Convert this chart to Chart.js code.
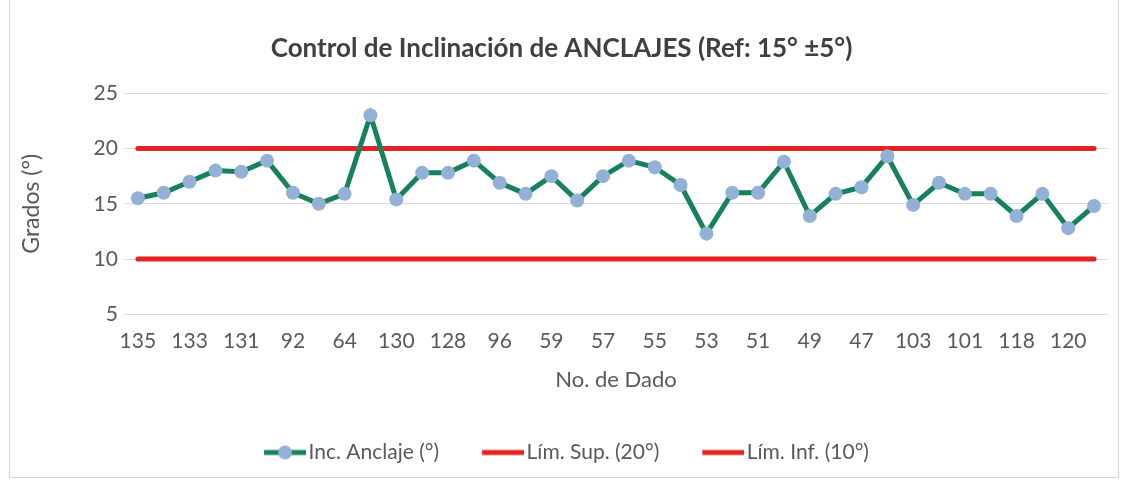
<!DOCTYPE html>
<html>
<head>
<meta charset="utf-8">
<script src="https://cdn.jsdelivr.net/npm/chart.js@4.4.0/dist/chart.umd.min.js"></script>
<style>
  body { margin: 0; background: #fff; }
  #wrap { position: relative; width: 1131px; height: 483px; }
  #frame { position: absolute; left: 9px; top: -2px; width: 1108px; height: 478px; border: 1px solid #d6d6d6; }
</style>
</head>
<body>
<div id="wrap">
  <div id="frame"></div>
  <canvas id="canvas"></canvas>
</div>
<script>
"use strict";

// No. de Dado (only every other label is printed on the axis)
var dados = ['135', '134', '133', '132', '131', '93', '92', '91', '64', '63',
             '130', '129', '128', '97', '96', '60', '59', '58', '57', '56',
             '55', '54', '53', '52', '51', '50', '49', '48', '47', '104',
             '103', '102', '101', '117', '118', '119', '120', '121'];

var inclinacion = [15.5, 16.0, 17.0, 18.0, 17.9, 18.9, 16.0, 15.0, 15.9, 23.0,
                   15.4, 17.8, 17.8, 18.9, 16.9, 15.9, 17.5, 15.3, 17.5, 18.9,
                   18.3, 16.7, 12.3, 16.0, 16.0, 18.8, 13.9, 15.9, 16.5, 19.3,
                   14.9, 16.9, 15.9, 15.9, 13.9, 15.9, 12.8, 14.8];

var limSup = [20, 20, 20, 20, 20, 20, 20, 20, 20, 20, 20, 20, 20, 20, 20, 20, 20, 20, 20,
              20, 20, 20, 20, 20, 20, 20, 20, 20, 20, 20, 20, 20, 20, 20, 20, 20, 20, 20];
var limInf = [10, 10, 10, 10, 10, 10, 10, 10, 10, 10, 10, 10, 10, 10, 10, 10, 10, 10, 10,
              10, 10, 10, 10, 10, 10, 10, 10, 10, 10, 10, 10, 10, 10, 10, 10, 10, 10, 10];

var yTicks = [5, 10, 15, 20, 25];

var verde = '#17805c';
var azul = '#93b1d6';
var rojo = '#e2231f';
var gris = '#595959';

// legend icons: line with marker / plain line (drawn in the right part of the canvas
// so the text sits close to the icon like in Excel)
function legendIcon(lineColor, dot) {
  var c = document.createElement('canvas');
  c.width = 60;
  c.height = 16;
  var g = c.getContext('2d');
  g.strokeStyle = lineColor;
  g.lineWidth = 5;
  g.beginPath();
  g.moveTo(18, 8);
  g.lineTo(60, 8);
  g.stroke();
  if (dot) {
    g.fillStyle = azul;
    g.beginPath();
    g.arc(39, 8, 7, 0, Math.PI * 2);
    g.fill();
  }
  return c;
}

window.onload = function() {
  Chart.defaults.font.family = 'Lato, "Liberation Sans", sans-serif';
  Chart.defaults.color = gris;

  var icons = [legendIcon(verde, true), legendIcon(rojo, false), legendIcon(rojo, false)];

  var ctx = document.getElementById('canvas').getContext('2d');
  window.myLine = new Chart(ctx, {
    type: 'line',
    data: {
      labels: dados,
      datasets: [{
        label: 'Inc. Anclaje (°)',
        data: inclinacion,
        borderColor: verde,
        borderWidth: 5,
        backgroundColor: azul,
        pointBackgroundColor: azul,
        pointBorderColor: azul,
        pointRadius: 7,
        pointBorderWidth: 0,
        tension: 0,
        order: 1
      }, {
        label: 'Lím. Sup. (20°)',
        data: limSup,
        borderColor: rojo,
        borderWidth: 5,
        borderCapStyle: 'round',
        pointRadius: 0,
        order: 2
      }, {
        label: 'Lím. Inf. (10°)',
        data: limInf,
        borderColor: rojo,
        borderWidth: 5,
        borderCapStyle: 'round',
        pointRadius: 0,
        order: 3
      }]
    },
    options: {
      responsive: true,
      maintainAspectRatio: false,
      animation: false,
      layout: {
        padding: { left: 16, right: 24, top: 0, bottom: 10 }
      },
      plugins: {
        title: {
          display: true,
          text: 'Control de Inclinación de ANCLAJES (Ref: 15° ±5°)',
          color: '#404040',
          font: { size: 26, weight: 'bold' },
          padding: { top: 33, bottom: 29 }
        },
        legend: {
          position: 'bottom',
          labels: {
            usePointStyle: true,
            pointStyleWidth: 44,
            padding: 33,
            color: gris,
            font: { size: 21 },
            generateLabels: function(chart) {
              return chart.data.datasets.map(function(ds, i) {
                return {
                  text: ds.label,
                  pointStyle: icons[i],
                  fillStyle: ds.borderColor,
                  strokeStyle: ds.borderColor,
                  lineWidth: 0,
                  hidden: false,
                  datasetIndex: i,
                  fontColor: gris
                };
              });
            }
          }
        },
        tooltip: { enabled: false }
      },
      scales: {
        x: {
          offset: true,
          grid: { display: false },
          border: { display: false },
          ticks: {
            autoSkip: false,
            maxRotation: 0,
            padding: 6,
            font: { size: 21 },
            color: gris,
            callback: function(value, index) {
              return index % 2 === 0 ? dados[index] : '';
            }
          },
          title: {
            display: true,
            text: 'No. de Dado',
            font: { size: 22 },
            color: gris,
            padding: { top: 7, bottom: 16 }
          }
        },
        y: {
          min: 5,
          max: 25,
          afterBuildTicks: function(axis) {
            axis.ticks = yTicks.map(function(v) { return { value: v }; });
          },
          grid: { color: '#dcdcdc', lineWidth: 1, drawTicks: false },
          border: { display: false },
          ticks: {
            padding: 7,
            font: { size: 21 },
            color: gris
          },
          title: {
            display: true,
            text: 'Grados (°)',
            font: { size: 23 },
            color: gris,
            padding: { top: 2, bottom: 41 }
          }
        }
      }
    }
  });
};
</script>
</body>
</html>
